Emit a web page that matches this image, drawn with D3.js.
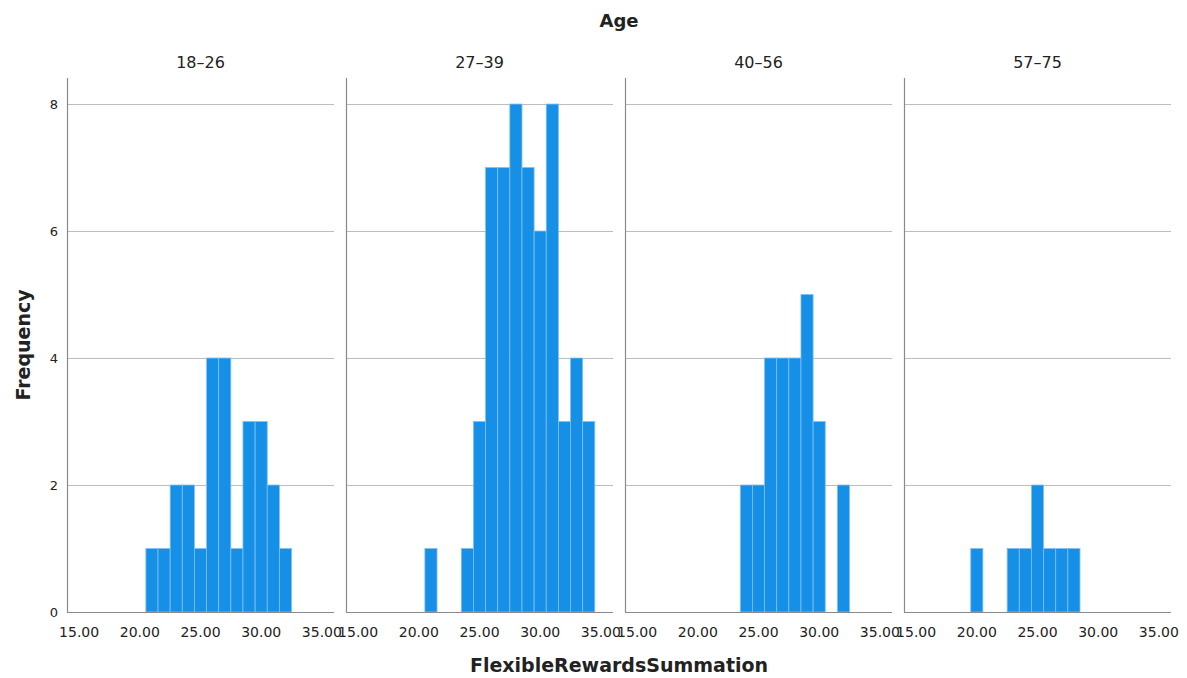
<!DOCTYPE html>
<html>
<head>
<meta charset="utf-8">
<script src="https://cdn.jsdelivr.net/npm/d3@7"></script>
<style>
  body { margin: 0; background: #fff; }
  svg text { font-family: "DejaVu Sans", "Liberation Sans", sans-serif; fill: #222; }
</style>
</head>
<body>
<div id="chart"></div>
<script>
// age groups (panels)
var ageGroups = ['18\u201326', '27\u201339', '40\u201356', '57\u201375'];

// score bins (centre of each 1-point bin)
var scoreBins = [20, 21, 22, 23, 24, 25, 26, 27, 28, 29, 30, 31, 32, 33, 34];

// frequencies per age group, one per bin
var counts1826 = [0, 1, 1, 2, 2, 1, 4, 4, 1, 3, 3, 2, 1, 0, 0];
var counts2739 = [0, 1, 0, 0, 1, 3, 7, 7, 8, 7, 6, 8, 3, 4, 3];
var counts4056 = [0, 0, 0, 0, 2, 2, 4, 4, 4, 5, 3, 0, 2, 0, 0];
var counts5775 = [1, 0, 0, 1, 1, 2, 1, 1, 1, 0, 0, 0, 0, 0, 0];

var xTicks = [15, 20, 25, 30, 35];
var yTicks = [0, 2, 4, 6, 8];

var allCounts = [counts1826, counts2739, counts4056, counts5775];

var pic_width = 1187, pic_height = 678;
var panel_left = 67, panel_width = 267, panel_step = 279;
var plot_top = 78, plot_bottom = 612;

var svg = d3.select('#chart').append('svg')
    .attr('width', pic_width)
    .attr('height', pic_height);

var xScale = d3.scaleLinear().domain([14, 36]).range([0, panel_width]);
var yScale = d3.scaleLinear().domain([0, 8.41]).range([plot_bottom, plot_top]);

ageGroups.forEach(function(name, p) {
    var g = svg.append('g')
        .attr('transform', 'translate(' + (panel_left + p * panel_step) + ',0)');

    // gridlines
    g.selectAll('line.grid').data(yTicks.slice(1))
        .enter().append('line')
        .attr('class', 'grid')
        .attr('x1', 0).attr('x2', panel_width)
        .attr('y1', function(d) { return Math.round(yScale(d)) + 0.5; })
        .attr('y2', function(d) { return Math.round(yScale(d)) + 0.5; })
        .attr('stroke', '#bdbdbd')
        .attr('stroke-width', 1);

    // bars
    var rows = scoreBins.map(function(b, i) { return {bin: b, n: allCounts[p][i]}; })
        .filter(function(d) { return d.n > 0; });
    g.selectAll('rect').data(rows)
        .enter().append('rect')
        .attr('x', function(d) { return xScale(d.bin - 0.5); })
        .attr('width', function(d) { return xScale(d.bin + 0.5) - xScale(d.bin - 0.5); })
        .attr('y', function(d) { return yScale(d.n); })
        .attr('height', function(d) { return plot_bottom - yScale(d.n); })
        .style('fill', '#1690e6')
        .style('stroke', '#7fc0f3')
        .style('stroke-width', 0.8);

    // axis lines
    g.append('line')
        .attr('x1', 0.5).attr('x2', 0.5)
        .attr('y1', plot_top).attr('y2', plot_bottom)
        .attr('stroke', '#8a8a8a').attr('stroke-width', 1.2);
    g.append('line')
        .attr('x1', 0).attr('x2', panel_width)
        .attr('y1', plot_bottom + 0.5).attr('y2', plot_bottom + 0.5)
        .attr('stroke', '#8a8a8a').attr('stroke-width', 1.2);

    // x tick labels
    g.selectAll('text.xt').data(xTicks)
        .enter().append('text')
        .attr('class', 'xt')
        .attr('x', function(d) { return xScale(d); })
        .attr('y', 637)
        .attr('text-anchor', 'middle')
        .style('font-size', '14px')
        .text(function(d) { return d.toFixed(2); });

    // panel title
    g.append('text')
        .attr('x', panel_width / 2)
        .attr('y', 68)
        .attr('text-anchor', 'middle')
        .style('font-size', '16px')
        .text(name);

    // y tick labels only on first panel
    if (p === 0) {
        g.selectAll('text.yt').data(yTicks)
            .enter().append('text')
            .attr('class', 'yt')
            .attr('x', -9)
            .attr('y', function(d) { return yScale(d) + 4.5; })
            .attr('text-anchor', 'end')
            .style('font-size', '13px')
            .text(function(d) { return d; });
    }
});

// titles
svg.append('text')
    .attr('x', 619).attr('y', 27)
    .attr('text-anchor', 'middle')
    .style('font-size', '18px').style('font-weight', 'bold')
    .text('Age');

svg.append('text')
    .attr('x', 619).attr('y', 672)
    .attr('text-anchor', 'middle')
    .style('font-size', '19px').style('font-weight', 'bold')
    .text('FlexibleRewardsSummation');

svg.append('text')
    .attr('transform', 'translate(30,345) rotate(-90)')
    .attr('text-anchor', 'middle')
    .style('font-size', '19px').style('font-weight', 'bold')
    .text('Frequency');
</script>
</body>
</html>
